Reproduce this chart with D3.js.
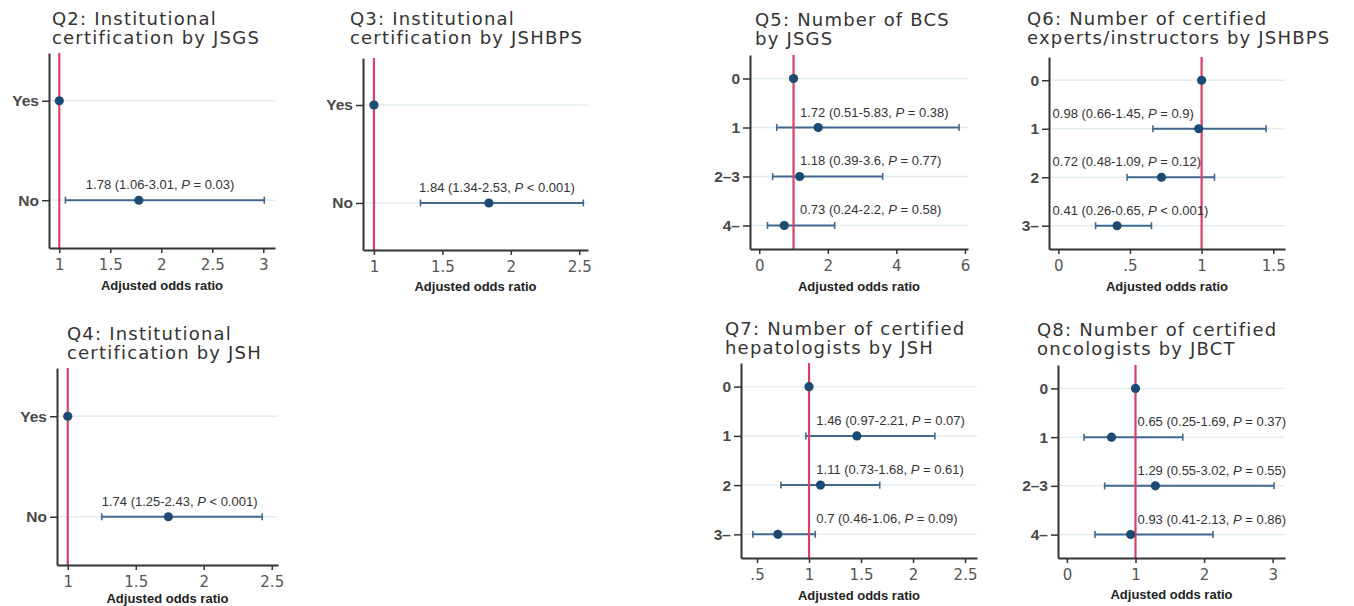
<!DOCTYPE html>
<html>
<head>
<meta charset="utf-8">
<script src="https://cdn.jsdelivr.net/npm/d3@7"></script>
<style>
  body { margin: 0; background: #fff; }
  svg { display: block; }
</style>
</head>
<body>
<script>
// values (reference rows have no CI)
const q2Cats = ["Yes", "No"];
const q2Est = [1, 1.78];
const q2Low = [null, 1.06];
const q2High = [null, 3.01];
const q2P = [null, "= 0.03"];
const q2Ticks = [1, 1.5, 2, 2.5, 3];

const q3Cats = ["Yes", "No"];
const q3Est = [1, 1.84];
const q3Low = [null, 1.34];
const q3High = [null, 2.53];
const q3P = [null, "< 0.001"];
const q3Ticks = [1, 1.5, 2, 2.5];

const q4Cats = ["Yes", "No"];
const q4Est = [1, 1.74];
const q4Low = [null, 1.25];
const q4High = [null, 2.43];
const q4P = [null, "< 0.001"];
const q4Ticks = [1, 1.5, 2, 2.5];

const q5Cats = ["0", "1", "2\u20133", "4\u2013"];
const q5Est = [1, 1.72, 1.18, 0.73];
const q5Low = [null, 0.51, 0.39, 0.24];
const q5High = [null, 5.83, 3.6, 2.2];
const q5P = [null, "= 0.38", "= 0.77", "= 0.58"];
const q5Ticks = [0, 2, 4, 6];

const q6Cats = ["0", "1", "2", "3\u2013"];
const q6Est = [1, 0.98, 0.72, 0.41];
const q6Low = [null, 0.66, 0.48, 0.26];
const q6High = [null, 1.45, 1.09, 0.65];
const q6P = [null, "= 0.9", "= 0.12", "< 0.001"];
const q6Ticks = [0, 0.5, 1, 1.5];

const q7Cats = ["0", "1", "2", "3\u2013"];
const q7Est = [1, 1.46, 1.11, 0.7];
const q7Low = [null, 0.97, 0.73, 0.46];
const q7High = [null, 2.21, 1.68, 1.06];
const q7P = [null, "= 0.07", "= 0.61", "= 0.09"];
const q7Ticks = [0.5, 1, 1.5, 2, 2.5];

const q8Cats = ["0", "1", "2\u20133", "4\u2013"];
const q8Est = [1, 0.65, 1.29, 0.93];
const q8Low = [null, 0.25, 0.55, 0.41];
const q8High = [null, 1.69, 3.02, 2.13];
const q8P = [null, "= 0.37", "= 0.55", "= 0.86"];
const q8Ticks = [0, 1, 2, 3];

const titles = [
  ["Q2: Institutional", "certification by JSGS"],
  ["Q3: Institutional", "certification by JSHBPS"],
  ["Q4: Institutional", "certification by JSH"],
  ["Q5: Number of BCS", "by JSGS"],
  ["Q6: Number of certified", "experts/instructors by JSHBPS"],
  ["Q7: Number of certified", "hepatologists by JSH"],
  ["Q8: Number of certified", "oncologists by JBCT"]
];
const xTitle = "Adjusted odds ratio";

// layout: plot box [x0,y0,x1,y1], x domain at box edges, title spot, label anchor (OR units)
const panels = [
  {t: titles[0], cats: q2Cats, est: q2Est, lo: q2Low, hi: q2High, p: q2P, ticks: q2Ticks,
   box: [49, 53, 275, 248], dom: [0.899, 3.115], tx: 52, ty: 25, labAt: 1.26, xo: 37},
  {t: titles[1], cats: q3Cats, est: q3Est, lo: q3Low, hi: q3High, p: q3P, ticks: q3Ticks,
   box: [363, 58, 588, 250], dom: [0.92, 2.564], tx: 350, ty: 25, labAt: 1.33, xo: 36},
  {t: titles[2], cats: q4Cats, est: q4Est, lo: q4Low, hi: q4High, p: q4P, ticks: q4Ticks,
   box: [57, 368, 278, 565], dom: [0.921, 2.546], tx: 67, ty: 340, labAt: 1.25, xo: 33},
  {t: titles[3], cats: q5Cats, est: q5Est, lo: q5Low, hi: q5High, p: q5P, ticks: q5Ticks,
   box: [750, 55, 968, 249], dom: [-0.27, 6.09], tx: 755, ty: 26, labAt: 1.19, xo: 37},
  {t: titles[4], cats: q6Cats, est: q6Est, lo: q6Low, hi: q6High, p: q6P, ticks: q6Ticks,
   box: [1049, 57, 1285, 249], dom: [-0.065, 1.582], tx: 1027, ty: 25, labAt: -0.04, xo: 37},
  {t: titles[5], cats: q7Cats, est: q7Est, lo: q7Low, hi: q7High, p: q7P, ticks: q7Ticks,
   box: [741, 363, 977, 558], dom: [0.346, 2.615], tx: 725, ty: 335, labAt: 1.07, xo: 37},
  {t: titles[6], cats: q8Cats, est: q8Est, lo: q8Low, hi: q8High, p: q8P, ticks: q8Ticks,
   box: [1058, 365, 1285, 558], dom: [-0.13, 3.18], tx: 1037, ty: 336, labAt: 1.03, xo: 36}
];

const W = 1354, H = 606;
const red = "#dc3f66", dot = "#1b4a72", ci = "#41698f";

const svg = d3.select("body").append("svg")
    .attr("width", W)
    .attr("height", H);

const tickFmt = d => String(d).replace(/^0\./, ".");

panels.forEach(pn => {
  const [x0, y0, x1, y1] = pn.box;
  const x = d3.scaleLinear().domain(pn.dom).range([x0, x1]);
  const y = d3.scalePoint().domain(pn.cats).range([y0, y1]).padding(0.48);
  const rows = pn.cats.map((c, i) => ({c, est: pn.est[i], lo: pn.lo[i], hi: pn.hi[i], p: pn.p[i]}));
  const g = svg.append("g");

  // title, two tight lines
  const tt = g.append("text")
      .attr("x", pn.tx).attr("y", pn.ty)
      .attr("font-family", "'DejaVu Sans', sans-serif")
      .attr("font-size", 18)
      .attr("letter-spacing", 1.2)
      .attr("fill", "#333");
  pn.t.forEach((line, i) => {
    tt.append("tspan").attr("x", pn.tx).attr("y", pn.ty + i * 19).text(line);
  });

  // faint gridlines
  g.append("g").selectAll("line")
    .data(rows).join("line")
      .attr("x1", x0).attr("x2", x1)
      .attr("y1", d => y(d.c)).attr("y2", d => y(d.c))
      .attr("stroke", "#e3edf2")
      .attr("stroke-width", 1.5);

  // confidence intervals
  const ciRows = rows.filter(d => d.lo != null);
  const cig = g.append("g").attr("stroke", ci).attr("stroke-width", 2);
  cig.selectAll(".bar").data(ciRows).join("line")
      .attr("x1", d => x(d.lo)).attr("x2", d => x(d.hi))
      .attr("y1", d => y(d.c)).attr("y2", d => y(d.c));
  cig.selectAll(".capl").data(ciRows).join("line")
      .attr("class", "capl")
      .attr("x1", d => x(d.lo)).attr("x2", d => x(d.lo))
      .attr("y1", d => y(d.c) - 3.5).attr("y2", d => y(d.c) + 3.5)
      .attr("stroke-width", 1.6);
  cig.selectAll(".caph").data(ciRows).join("line")
      .attr("class", "caph")
      .attr("x1", d => x(d.hi)).attr("x2", d => x(d.hi))
      .attr("y1", d => y(d.c) - 3.5).attr("y2", d => y(d.c) + 3.5)
      .attr("stroke-width", 1.6);

  // reference line at OR = 1
  g.append("line")
      .attr("x1", x(1)).attr("x2", x(1))
      .attr("y1", y0).attr("y2", y1)
      .attr("stroke", red)
      .attr("stroke-width", 2.2);

  // point estimates
  g.append("g").selectAll("circle")
    .data(rows).join("circle")
      .attr("cx", d => x(d.est))
      .attr("cy", d => y(d.c))
      .attr("r", 4.6)
      .attr("fill", dot);

  // annotations
  const lab = g.append("g").selectAll("text")
    .data(ciRows).join("text")
      .attr("x", x(pn.labAt))
      .attr("y", d => y(d.c) - 11)
      .attr("font-family", "'Liberation Sans', Arial, sans-serif")
      .attr("font-size", 13)
      .attr("fill", "#333");
  lab.append("tspan").text(d => `${d.est} (${d.lo}-${d.hi}, `);
  lab.append("tspan").attr("font-style", "italic").text("P");
  lab.append("tspan").text(d => ` ${d.p})`);

  // axes
  const ay = g.append("g")
      .attr("transform", `translate(${x0},0)`)
      .call(d3.axisLeft(y).tickSize(7).tickSizeOuter(0).tickPadding(3));
  ay.attr("font-family", "'Liberation Sans', Arial, sans-serif")
    .attr("font-size", 15.5)
    .attr("font-weight", "bold");
  ay.selectAll("text").attr("fill", "#484848");
  ay.selectAll("line").attr("stroke", "#333").attr("stroke-width", 1.5);
  ay.select(".domain").attr("stroke", "#333").attr("stroke-width", 2);

  const ax = g.append("g")
      .attr("transform", `translate(0,${y1})`)
      .call(d3.axisBottom(x).tickValues(pn.ticks).tickFormat(tickFmt)
        .tickSize(5).tickSizeOuter(0).tickPadding(6));
  ax.attr("font-family", "'DejaVu Sans', sans-serif")
    .attr("font-size", 15);
  ax.selectAll("text").attr("fill", "#555");
  ax.selectAll("line").attr("stroke", "#333").attr("stroke-width", 1.5);
  ax.select(".domain").attr("stroke", "#333").attr("stroke-width", 2);

  g.append("text")
      .attr("x", (x0 + x1) / 2)
      .attr("y", y1 + pn.xo)
      .attr("dy", "0.35em")
      .attr("text-anchor", "middle")
      .attr("font-family", "'Liberation Sans', Arial, sans-serif")
      .attr("font-size", 13)
      .attr("font-weight", "bold")
      .attr("fill", "#222")
      .text(xTitle);
});
</script>
</body>
</html>
